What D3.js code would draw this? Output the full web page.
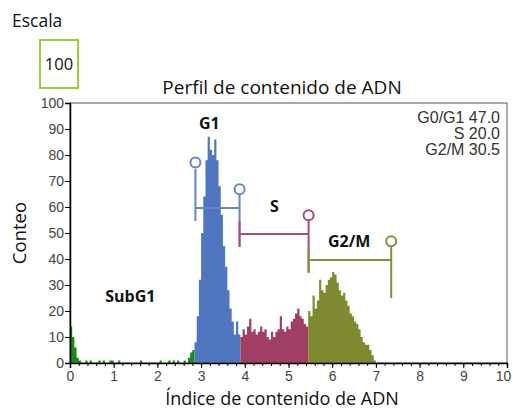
<!DOCTYPE html>
<html>
<head>
<meta charset="utf-8">
<script src="https://d3js.org/d3.v7.min.js"></script>
<style>
  body { margin: 0; background: #fff; }
  svg text { font-family: "Open Sans", sans-serif; }
  .tick text { font-family: "Liberation Sans", Arial, sans-serif; font-size: 14px; fill: #444; }
</style>
</head>
<body>
<div id="chart"></div>
<script>
// histogram bins, width 0.05, first bin starts at 0
const binWidth = 0.05;
const subG1Counts = [14,10,6,2,1,0,0,1,0,1,0,0,0,1,0,1,0,0,1,1,0,0,1,0,0,0,0,0,0,0,0,0,1,0,0,0,0,0,0,0,0,1,0,0,0,1,0,1,0,1,0,0,1,0,2,4,5];
const g1Counts = [8,18,32,50,64,78,87,82,80,86,78,68,57,45,37,28,21,16,11,16,11];
const sCounts = [10,13,11,14,17,12,13,11,12,14,12,13,10,9,12,10,12,13,18,13,12,14,13,16,17,19,21,18,17,15,14];
const g2mCounts = [20,18,26,21,24,32,28,27,30,32,33,35,34,31,28,26,27,24,22,19,18,16,15,13,10,8,7,7,5,3,1];

const phaseColors = ["#178a17", "#5076bf", "#a03e66", "#7f8a30"];
const gateColors = ["#6684c4", "#ac4c78", "#8a8a3c"];

const gateNames = ["G1", "S", "G2/M"];
const gateStart = [2.87, 3.88, 5.46];
const gateEnd = [3.88, 5.46, 7.35];
const gateLevel = [59.6, 49.6, 39.6];

const labelText = ["SubG1", "G1", "S", "G2/M"];
const labelX = [1.38, 3.19, 4.68, 6.39];
const labelY = [23.5, 90, 58, 44.6];

const statLabels = ["G0/G1 47.0", "S 20.0", "G2/M 30.5"];
const xTicks = d3.range(0, 11);
const yTicks = d3.range(0, 101, 10);

const W = 513, H = 412;
const margin = {top: 103, right: 6, bottom: 49, left: 70};

const svg = d3.select("#chart").append("svg")
  .attr("width", W).attr("height", H);

const x = d3.scaleLinear().domain([0, 10]).range([margin.left, W - margin.right]);
const y = d3.scaleLinear().domain([0, 100]).range([H - margin.bottom, margin.top]);

// one step area per phase
const area = d3.area()
  .x(d => x(d[0]))
  .y0(y(0))
  .y1(d => y(d[1]))
  .curve(d3.curveStepAfter);

let start = 0;
[subG1Counts, g1Counts, sCounts, g2mCounts].forEach(function(arr, p) {
  const pts = arr.map((c, i) => [(start + i) * binWidth, c]);
  pts.push([(start + arr.length) * binWidth, arr[arr.length - 1]]);
  svg.append("path")
    .attr("d", area(pts))
    .attr("fill", phaseColors[p]);
  start += arr.length;
});

// frame
svg.append("rect")
  .attr("x", x(0)).attr("y", y(100))
  .attr("width", x(10) - x(0)).attr("height", y(0) - y(100))
  .attr("fill", "none").attr("stroke", "#555").attr("stroke-width", 1);

// axes
svg.append("g")
  .attr("transform", `translate(0,${y(0)})`)
  .call(d3.axisBottom(x).tickValues(d3.range(0, 10.01, 0.2)).tickSize(3).tickFormat(""))
  .call(g => g.select(".domain").remove());
svg.append("g")
  .attr("transform", `translate(0,${y(0)})`)
  .call(d3.axisBottom(x).tickValues(xTicks).tickSize(5).tickPadding(3).tickFormat(d3.format("d")))
  .call(g => g.select(".domain").attr("stroke-width", 1.5))
  .call(g => g.selectAll(".tick text").filter(d => d === 10).attr("dx", -4));
svg.append("g")
  .attr("transform", `translate(${x(0)},0)`)
  .call(d3.axisLeft(y).tickValues(yTicks).tickSize(5).tickPadding(1).tickFormat(d3.format("d")))
  .call(g => g.select(".domain").attr("stroke-width", 1.5));

// gates
gateNames.forEach(function(name, i) {
  const g = svg.append("g").attr("stroke", gateColors[i]).attr("stroke-width", 2).attr("fill", "none");
  const lv = gateLevel[i];
  g.append("line")
    .attr("x1", x(gateStart[i])).attr("x2", x(gateEnd[i]))
    .attr("y1", y(lv)).attr("y2", y(lv));
  g.append("line")
    .attr("x1", x(gateStart[i])).attr("x2", x(gateStart[i]))
    .attr("y1", y(lv + (i === 0 ? 15 : 5))).attr("y2", y(lv - 5));
  g.append("line")
    .attr("x1", x(gateEnd[i])).attr("x2", x(gateEnd[i]))
    .attr("y1", y(lv + 5.5)).attr("y2", y(lv - 14.6));
  g.append("circle")
    .attr("cx", x(gateEnd[i])).attr("cy", y(lv + 7.2)).attr("r", 5)
    .attr("fill", "#fff");
  if (i === 0) {
    g.append("circle")
      .attr("cx", x(gateStart[i])).attr("cy", y(lv + 17.5)).attr("r", 5)
      .attr("fill", "#fff");
  }
});

// phase labels
labelText.forEach(function(t, i) {
  svg.append("text")
    .attr("x", x(labelX[i])).attr("y", y(labelY[i]))
    .attr("text-anchor", "middle")
    .attr("font-weight", "bold").attr("font-size", 16)
    .attr("fill", "#111")
    .text(t);
});

// stats text
svg.append("g").selectAll("text")
  .data(statLabels)
  .join("text")
    .attr("x", W - 13)
    .attr("y", (d, i) => 123 + i * 16)
    .attr("text-anchor", "end")
    .style("font-family", "'Liberation Sans', Arial, sans-serif")
    .attr("font-size", 16)
    .attr("fill", "#333")
    .text(d => d);

// titles
svg.append("text")
  .attr("x", 282).attr("y", 94)
  .attr("text-anchor", "middle").attr("font-size", 19).attr("fill", "#111")
  .text("Perfil de contenido de ADN");
svg.append("text")
  .attr("x", 282).attr("y", 405)
  .attr("text-anchor", "middle").attr("font-size", 18).attr("fill", "#111")
  .text("Índice de contenido de ADN");
svg.append("text")
  .attr("transform", `translate(26,${(y(0) + y(100)) / 2}) rotate(-90)`)
  .attr("text-anchor", "middle").attr("font-size", 18.5).attr("fill", "#111")
  .text("Conteo");

// scale box
svg.append("text")
  .attr("x", 12).attr("y", 27)
  .attr("font-size", 17.5).attr("fill", "#111")
  .text("Escala");
svg.append("rect")
  .attr("x", 40).attr("y", 40).attr("width", 38).attr("height", 48)
  .attr("fill", "#fff").attr("stroke", "#9ccc3c").attr("stroke-width", 2);
svg.append("text")
  .attr("x", 59).attr("y", 70)
  .attr("text-anchor", "middle").attr("font-size", 16.5).attr("fill", "#111")
  .text("100");
</script>
</body>
</html>
